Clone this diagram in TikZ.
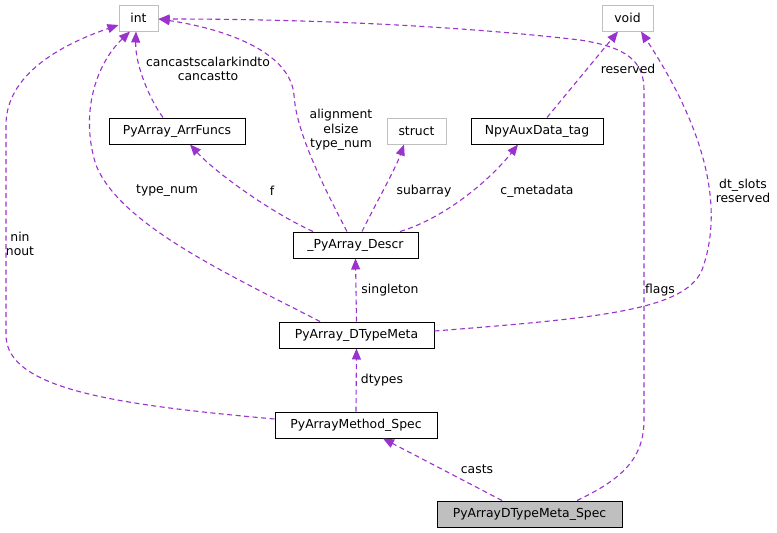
\documentclass[tikz,border=0pt]{standalone}
\usepackage{fontspec}
\setmainfont{DejaVu Sans}
\usetikzlibrary{arrows.meta,calc}
\definecolor{edgec}{HTML}{9A32CD}
\definecolor{extgray}{HTML}{BFBFBF}
\begin{document}
\begin{tikzpicture}[x=1pt,y=-1pt,
  every node/.style={font=\fontsize{12.4}{14.5}\selectfont, inner sep=0pt},
  cls/.style={draw=black, line width=1pt, fill=white, minimum height=26pt},
  ext/.style={draw=extgray, line width=1pt, fill=white, minimum height=26pt},
  rel/.style={draw=edgec, line width=1.1pt, dash pattern=on 5pt off 3.5pt,
     -{Triangle[length=11pt,width=9pt,fill=edgec]}},
  lbl/.style={align=center}]
\useasboundingbox[fill=white] (0,0) rectangle (777,533);
% nodes
\node[ext, minimum width=39pt] (int) at (138.5,18) {int};
\node[ext, minimum width=51pt] (void) at (627.5,18) {void};
\node[cls, minimum width=136pt] (arr) at (177,131) {PyArray\_ArrFuncs};
\node[ext, minimum width=59pt] (struct) at (416.5,131) {struct};
\node[cls, minimum width=132pt] (npy) at (537,131) {NpyAuxData\_tag};
\node[cls, minimum width=125pt] (descr) at (355.5,245) {\_PyArray\_Descr};
\node[cls, minimum width=155pt] (dtm) at (356.5,335) {PyArray\_DTypeMeta};
\node[cls, minimum width=162pt] (meth) at (356,425) {PyArrayMethod\_Spec};
\node[cls, fill=extgray, minimum width=185pt] (spec) at (529.5,514) {PyArrayDTypeMeta\_Spec};
% edges
\draw[rel] ([xshift=-14pt]arr.north) .. controls (150,100) and (135,65) .. ([xshift=-2.5pt]int.south);
\draw[rel] ([xshift=-42.5pt]descr.north) .. controls (270,212) and (215,172) .. ([xshift=13pt]arr.south);
\draw[rel] ([xshift=-8.5pt]descr.north) .. controls (320,180) and (296,130) .. (294,95)
   .. controls (290,50) and (220,28) .. ([yshift=-1pt]int.east);
\draw[rel] ([xshift=47.5pt]spec.north) .. controls (620,480) and (644,460) .. (644,420)
   -- (644,90) .. controls (644,60) and (625,47) .. (580,40)
   .. controls (450,25) and (300,19) .. ([yshift=-1pt]int.east);
\draw[rel] ([yshift=6pt]meth.west) .. controls (120,405) and (6,390) .. (6,335)
   -- (6,125) .. controls (6,75) and (60,45) .. ([yshift=-7pt]int.west);
\draw[rel] ([xshift=-36.5pt]dtm.north) .. controls (230,275) and (120,225) .. (96,165)
   .. controls (80,115) and (95,65) .. ([xshift=-8.5pt]int.south);
\draw[rel] ([xshift=6.5pt]descr.north) .. controls (375,205) and (395,170) .. ([xshift=-12.5pt]struct.south);
\draw[rel] ([xshift=44.5pt]descr.north) .. controls (445,218) and (490,180) .. ([xshift=-19pt]npy.south);
\draw[rel] ([xshift=10pt]npy.north) -- ([xshift=-9.5pt]void.south);
\draw[rel] ([yshift=4pt]dtm.east) .. controls (600,318) and (685,310) .. (702,270)
   .. controls (722,215) and (712,140) .. ([xshift=13.5pt]void.south);
\draw[rel] (dtm.north) -- (descr.south);
\draw[rel] (meth.north) -- (dtm.south);
\draw[rel] ([xshift=-27.5pt]spec.north) -- ([xshift=27pt]meth.south);
% labels
\node[lbl] (l1) at (208,69) {cancastscalarkindto\\cancastto};
\node[lbl] (l2) at (341,130) {alignment\\elsize\\type\_num};
\node[lbl] (l3) at (167,191) {type\_num};
\node[lbl] (l4) at (272,191) {f};
\node[lbl] (l5) at (424,191) {subarray};
\node[lbl] (l6) at (537,191) {c\_metadata};
\node[lbl] (l7) at (628,69) {reserved};
\node[lbl] (l8) at (743,191) {dt\_slots\\reserved};
\node[lbl] (l9) at (20,244) {nin\\nout};
\node[lbl] (l10) at (390,290) {singleton};
\node[lbl] (l11) at (660,290) {flags};
\node[lbl] (l12) at (382,380) {dtypes};
\node[lbl] (l13) at (477,469) {casts};
\end{tikzpicture}
\end{document}
